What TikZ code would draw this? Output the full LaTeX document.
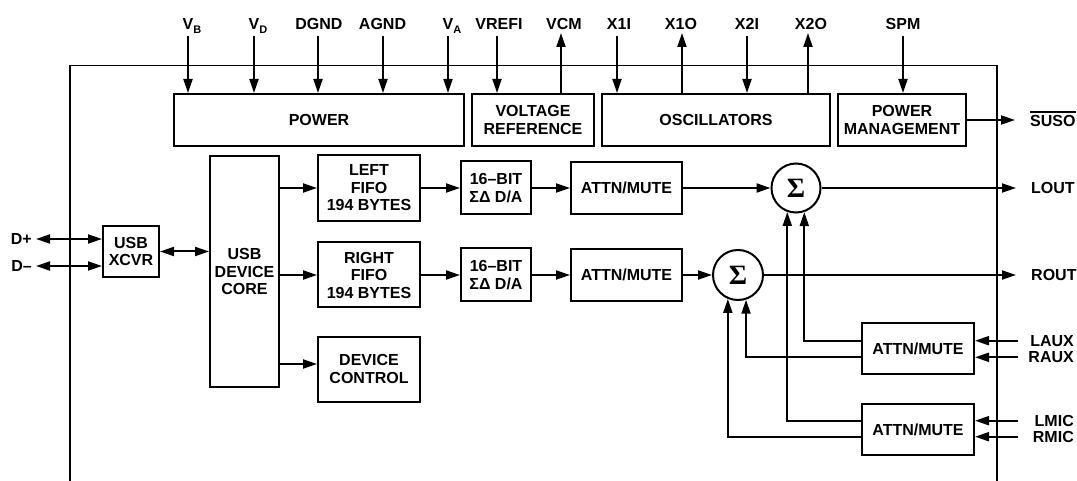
\documentclass[tikz,border=0pt]{standalone}
\usepackage{fontspec}
\setmainfont{Liberation Sans}
\newfontfamily\sigfont{Liberation Serif}
\usetikzlibrary{arrows.meta}
\newcommand{\sbs}[1]{{\fontsize{11}{11}\selectfont\raisebox{-3.5pt}{#1}}}
\begin{document}
\begin{tikzpicture}[x=1pt,y=-1pt,
  blk/.style={draw,line width=2pt,align=center,inner sep=0pt,font=\fontsize{16}{17.5}\selectfont\bfseries},
  sumnode/.style={draw,circle,line width=2pt,inner sep=0pt,minimum size=49pt,font=\sigfont\fontsize{28}{28}\selectfont\bfseries},
  arr/.style={line width=2pt,-{Triangle[length=14pt,width=9pt]}},
  darr/.style={line width=2pt,{Triangle[length=14pt,width=9pt]}-{Triangle[length=14pt,width=9pt]}},
  lbl/.style={inner sep=0pt,font=\fontsize{16}{17.5}\selectfont\bfseries},
]
\useasboundingbox (0,0) rectangle (1077,481);
% outer frame
\draw[line width=1.8pt] (70,481) -- (70,65.5) -- (997,65.5) -- (997,481);

% top blocks
\node[blk,minimum width=290pt,minimum height=52pt] (power) at (319,120) {POWER};
\node[blk,minimum width=122pt,minimum height=52pt] (vref) at (533,120) {VOLTAGE\\REFERENCE};
\node[blk,minimum width=228pt,minimum height=52pt] (osc) at (716,120) {OSCILLATORS};
\node[blk,minimum width=128pt,minimum height=52pt] (pm) at (902,120) {POWER\\MANAGEMENT};

% main blocks
\node[blk,minimum width=56pt,minimum height=51pt] (xcvr) at (131,251.5) {USB\\XCVR};
\node[blk,minimum width=69pt,minimum height=231pt] (core) at (244.5,271.5) {USB\\DEVICE\\CORE};
\node[blk,minimum width=102pt,minimum height=66pt] (lfifo) at (369,188) {LEFT\\FIFO\\194 BYTES};
\node[blk,minimum width=102pt,minimum height=65pt] (rfifo) at (369,275) {RIGHT\\FIFO\\194 BYTES};
\node[blk,minimum width=102pt,minimum height=65pt] (dc) at (369,369) {DEVICE\\CONTROL};
\node[blk,minimum width=70pt,minimum height=53pt] (da1) at (496,188) {16--BIT\\ΣΔ D/A};
\node[blk,minimum width=70pt,minimum height=53pt] (da2) at (496,275) {16--BIT\\ΣΔ D/A};
\node[blk,minimum width=111pt,minimum height=52pt] (attn1) at (626.5,188) {ATTN/MUTE};
\node[blk,minimum width=111pt,minimum height=52pt] (attn2) at (626.5,275) {ATTN/MUTE};
\node[sumnode] (sumL) at (796,188) {Σ};
\node[sumnode,minimum size=50pt] (sumR) at (738,275) {Σ};
\node[blk,minimum width=112pt,minimum height=51pt] (aux) at (918,348.5) {ATTN/MUTE};
\node[blk,minimum width=112pt,minimum height=51pt] (mic) at (918,429.5) {ATTN/MUTE};

% top pins: labels
\node[lbl,anchor=base] (lVB) at (192,30) {V\sbs{B}};
\node[lbl,anchor=base] (lVD) at (258,30) {V\sbs{D}};
\node[lbl,anchor=base] (lDGND) at (319,30) {DGND};
\node[lbl,anchor=base] (lAGND) at (382.5,30) {AGND};
\node[lbl,anchor=base] (lVA) at (452,30) {V\sbs{A}};
\node[lbl,anchor=base] (lVREFI) at (499,30) {VREFI};
\node[lbl,anchor=base] (lVCM) at (564,30) {VCM};
\node[lbl,anchor=base] (lX1I) at (619,30) {X1I};
\node[lbl,anchor=base] (lX1O) at (681,30) {X1O};
\node[lbl,anchor=base] (lX2I) at (747,30) {X2I};
\node[lbl,anchor=base] (lX2O) at (811,30) {X2O};
\node[lbl,anchor=base] (lSPM) at (903,30) {SPM};

% top pins: coordinates
\coordinate (pVB) at (188,36);
\coordinate (pVD) at (254,36);
\coordinate (pDGND) at (318,36);
\coordinate (pAGND) at (383,36);
\coordinate (pVA) at (448,36);
\coordinate (pVREFI) at (497,36);
\coordinate (pVCM) at (561,33);
\coordinate (pX1I) at (617,36);
\coordinate (pX1O) at (682,33);
\coordinate (pX2I) at (747,36);
\coordinate (pX2O) at (808,33);
\coordinate (pSPM) at (903,36);

\draw[arr] (pVB) -- (power.north -| pVB);
\draw[arr] (pVD) -- (power.north -| pVD);
\draw[arr] (pDGND) -- (power.north -| pDGND);
\draw[arr] (pAGND) -- (power.north -| pAGND);
\draw[arr] (pVA) -- (power.north -| pVA);
\draw[arr] (pVREFI) -- (vref.north -| pVREFI);
\draw[arr] (vref.north -| pVCM) -- (pVCM);
\draw[arr] (pX1I) -- (osc.north -| pX1I);
\draw[arr] (osc.north -| pX1O) -- (pX1O);
\draw[arr] (pX2I) -- (osc.north -| pX2I);
\draw[arr] (osc.north -| pX2O) -- (pX2O);
\draw[arr] (pSPM) -- (pm.north -| pSPM);

% SUSO
\coordinate (pSUSO) at (1015,120);
\draw[arr] (pm.east) -- (pSUSO);
\node[lbl,anchor=west] (lSUSO) at (1030,121) {SUSO};
\draw[line width=1.4pt] ([yshift=3pt]lSUSO.north west) -- ([yshift=3pt]lSUSO.north east);

% D+ / D-
\node[lbl,anchor=east] (lDp) at (32,239) {D+};
\node[lbl,anchor=east] (lDm) at (32,266) {D--};
\coordinate (pDp) at (36,239);
\coordinate (pDm) at (36,266);
\draw[darr] (pDp) -- (xcvr.west |- pDp);
\draw[darr] (pDm) -- (xcvr.west |- pDm);
\draw[darr] (xcvr.east) -- (core.west |- xcvr.east);

% data path
\draw[arr] (core.east |- lfifo.west) -- (lfifo.west);
\draw[arr] (core.east |- rfifo.west) -- (rfifo.west);
\draw[arr] ([yshift=5pt]core.east |- dc.west) -- ([yshift=5pt]dc.west);
\draw[arr] (lfifo.east) -- (da1.west);
\draw[arr] (rfifo.east) -- (da2.west);
\draw[arr] (da1.east) -- (attn1.west);
\draw[arr] (da2.east) -- (attn2.west);
\draw[arr] (attn1.east) -- (sumL.west);
\draw[arr] (attn2.east) -- (sumR.west);

% outputs
\coordinate (pLOUT) at (1016,188);
\coordinate (pROUT) at (1016,275);
\draw[arr] (sumL.east) -- (pLOUT);
\draw[arr] (sumR.east) -- (pROUT);
\node[lbl,anchor=west] (lLOUT) at (1031,188) {LOUT};
\node[lbl,anchor=west] (lROUT) at (1031,275) {ROUT};

% analog inputs
\coordinate (pLAUX) at (1018,340.7);
\coordinate (pRAUX) at (1018,357.3);
\coordinate (pLMIC) at (1018,420.7);
\coordinate (pRMIC) at (1018,436.7);
\node[lbl,anchor=east] (lLAUX) at (1074,340.7) {LAUX};
\node[lbl,anchor=east] (lRAUX) at (1074,357.3) {RAUX};
\node[lbl,anchor=east] (lLMIC) at (1074,420.7) {LMIC};
\node[lbl,anchor=east] (lRMIC) at (1074,436.7) {RMIC};
\draw[arr] (pLAUX) -- (aux.east |- pLAUX);
\draw[arr] (pRAUX) -- (aux.east |- pRAUX);
\draw[arr] (pLMIC) -- (mic.east |- pLMIC);
\draw[arr] (pRMIC) -- (mic.east |- pRMIC);

% feeds into summers
\draw[arr] (aux.west |- pLAUX) -| (sumL.-71);
\draw[arr] (aux.west |- pRAUX) -| (sumR.-72);
\draw[arr] (mic.west |- pLMIC) -| (sumL.-110);
\draw[arr] (mic.west |- pRMIC) -| (sumR.-113);
\end{tikzpicture}
\end{document}
